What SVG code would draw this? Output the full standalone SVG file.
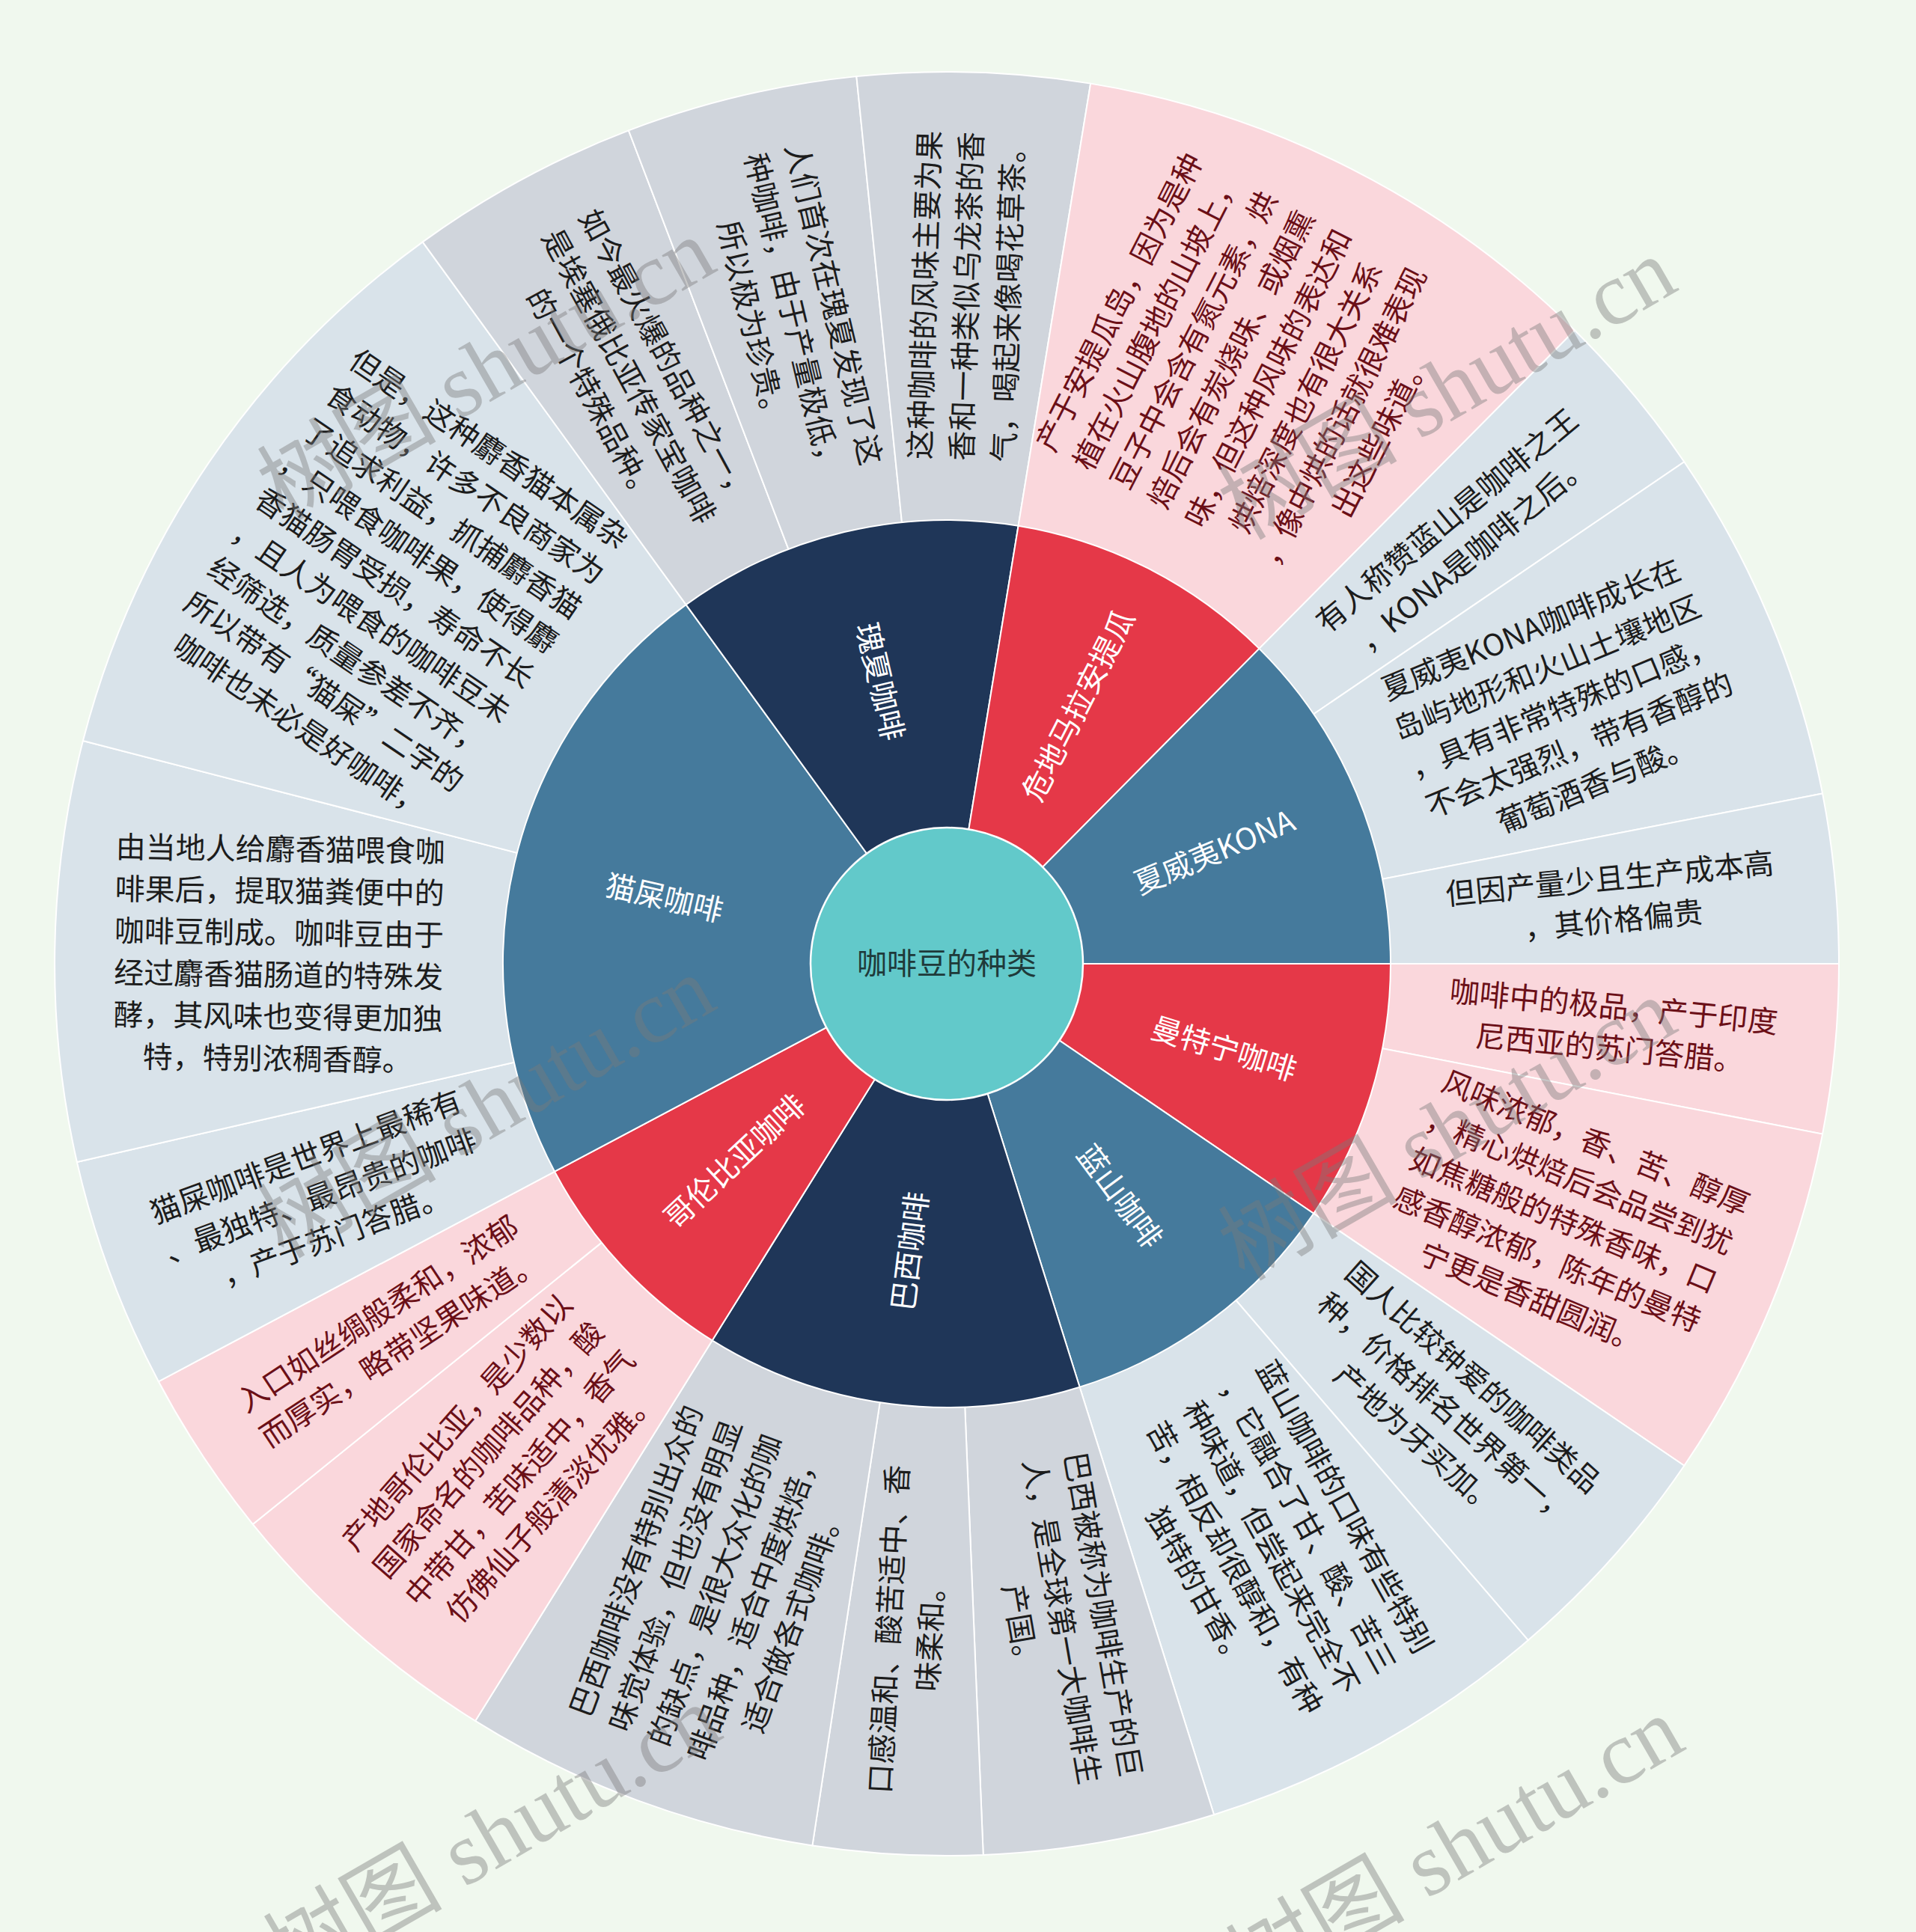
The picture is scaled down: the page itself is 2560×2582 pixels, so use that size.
<svg xmlns="http://www.w3.org/2000/svg" width="2560" height="2582" viewBox="0 0 2560 2582">
<style>
.seg{stroke:#ffffff;stroke-width:2}
.pk{fill:#fad7dc}.bg{fill:#d9e3ea}.gy{fill:#d0d5dc}
.rd{fill:#e53848}.st{fill:#457a9c}.nv{fill:#1f3658}
.t{font-family:"Noto Sans CJK SC","Noto Sans",sans-serif;font-size:40px;text-anchor:middle}
.dk{fill:#1c1c1c}.mr{fill:#6b0f17}.wt{fill:#ffffff}
.wm{font-family:"Liberation Serif","Noto Sans CJK SC",serif;font-size:120px;fill:#7a7a7a;fill-opacity:0.42;text-anchor:middle}
</style>
<rect x="0" y="0" width="2560" height="2582" fill="#f0f8ee"/>

<g id="leaves">
<g id="leaf-mandheling-1">
<path class="seg pk" d="M1265,1288 L2457,1288 A1192,1192 0 0 1 2435.07,1515.61 Z"/>
<text class="t mr" transform="translate(2153.4,1373.6) rotate(5.504)"><tspan x="0" y="-14">咖啡中的极品，产于印度</tspan><tspan x="0" y="42">尼西亚的苏门答腊。</tspan></text>
</g>
<g id="leaf-mandheling-2">
<path class="seg pk" d="M1265,1288 L2435.07,1515.61 A1192,1192 0 0 1 2250.30,1958.79 Z"/>
<text class="t mr" transform="translate(2088.8,1631.4) rotate(22.628)"><tspan x="0" y="-98">风味浓郁，香、苦、醇厚</tspan><tspan x="0" y="-42">，精心烘焙后会品尝到犹</tspan><tspan x="0" y="14">如焦糖般的特殊香味，口</tspan><tspan x="0" y="70">感香醇浓郁，陈年的曼特</tspan><tspan x="0" y="126">宁更是香甜圆润。</tspan></text>
</g>
<g id="leaf-bluemountain-1">
<path class="seg bg" d="M1265,1288 L2250.30,1958.79 A1192,1192 0 0 1 2041.77,2192.10 Z"/>
<text class="t dk" transform="translate(1930.5,1882.6) rotate(41.79)"><tspan x="0" y="-42">国人比较钟爱的咖啡类品</tspan><tspan x="0" y="14">种，价格排名世界第一，</tspan><tspan x="0" y="70">产地为牙买加。</tspan></text>
</g>
<g id="leaf-bluemountain-2">
<path class="seg bg" d="M1265,1288 L2041.77,2192.10 A1192,1192 0 0 1 1622.02,2425.23 Z"/>
<text class="t dk" transform="translate(1698.4,2068.2) rotate(60.95)"><tspan x="0" y="-98">蓝山咖啡的口味有些特别</tspan><tspan x="0" y="-42">，它融合了甘、酸、苦三</tspan><tspan x="0" y="14">种味道，但尝起来完全不</tspan><tspan x="0" y="70">苦，相反却很醇和，有种</tspan><tspan x="0" y="126">独特的甘香。</tspan></text>
</g>
<g id="leaf-brazil-1">
<path class="seg gy" d="M1265,1288 L1622.02,2425.23 A1192,1192 0 0 1 1313.75,2479.00 Z"/>
<text class="t dk" transform="translate(1418.3,2167.2) rotate(80.11)"><tspan x="0" y="-42">巴西被称为咖啡生产的巨</tspan><tspan x="0" y="14">人，是全球第一大咖啡生</tspan><tspan x="0" y="70">产国。</tspan></text>
</g>
<g id="leaf-brazil-2">
<path class="seg gy" d="M1265,1288 L1313.75,2479.00 A1192,1192 0 0 1 1085.44,2466.40 Z"/>
<text class="t dk" transform="translate(1215.8,2179.1) rotate(-86.84)"><tspan x="0" y="-14">口感温和、酸苦适中、香</tspan><tspan x="0" y="42">味柔和。</tspan></text>
</g>
<g id="leaf-brazil-3">
<path class="seg gy" d="M1265,1288 L1085.44,2466.40 A1192,1192 0 0 1 635.06,2299.93 Z"/>
<text class="t dk" transform="translate(955.6,2125.2) rotate(-69.72)"><tspan x="0" y="-98">巴西咖啡没有特别出众的</tspan><tspan x="0" y="-42">味觉体验，但也没有明显</tspan><tspan x="0" y="14">的缺点，是很大众化的咖</tspan><tspan x="0" y="70">啡品种，适合中度烘焙，</tspan><tspan x="0" y="126">适合做各式咖啡。</tspan></text>
</g>
<g id="leaf-colombia-1">
<path class="seg pk" d="M1265,1288 L635.06,2299.93 A1192,1192 0 0 1 337.80,2037.09 Z"/>
<text class="t mr" transform="translate(673.7,1956.5) rotate(-48.516)"><tspan x="0" y="-70">产地哥伦比亚，是少数以</tspan><tspan x="0" y="-14">国家命名的咖啡品种，酸</tspan><tspan x="0" y="42">中带甘，苦味适中，香气</tspan><tspan x="0" y="98">仿佛仙子般清淡优雅。</tspan></text>
</g>
<g id="leaf-colombia-2">
<path class="seg pk" d="M1265,1288 L337.80,2037.09 A1192,1192 0 0 1 211.83,1846.26 Z"/>
<text class="t mr" transform="translate(520.2,1779.7) rotate(-33.431)"><tspan x="0" y="-14">入口如丝绸般柔和，浓郁</tspan><tspan x="0" y="42">而厚实，略带坚果味道。</tspan></text>
</g>
<g id="leaf-kopi-1">
<path class="seg bg" d="M1265,1288 L211.83,1846.26 A1192,1192 0 0 1 102.84,1552.93 Z"/>
<text class="t dk" transform="translate(428.4,1598.9) rotate(-20.3845)"><tspan x="0" y="-42">猫屎咖啡是世界上最稀有</tspan><tspan x="0" y="14">、最独特、最昂贵的咖啡</tspan><tspan x="0" y="70">，产于苏门答腊。</tspan></text>
</g>
<g id="leaf-kopi-2">
<path class="seg bg" d="M1265,1288 L102.84,1552.93 A1192,1192 0 0 1 110.88,990.08 Z"/>
<text class="t dk" transform="translate(372.6,1275.3) rotate(0.816)"><tspan x="0" y="-126">由当地人给麝香猫喂食咖</tspan><tspan x="0" y="-70">啡果后，提取猫粪便中的</tspan><tspan x="0" y="-14">咖啡豆制成。咖啡豆由于</tspan><tspan x="0" y="42">经过麝香猫肠道的特殊发</tspan><tspan x="0" y="98">酵，其风味也变得更加独</tspan><tspan x="0" y="154">特，特别浓稠香醇。</tspan></text>
</g>
<g id="leaf-kopi-3">
<path class="seg bg" d="M1265,1288 L110.88,990.08 A1192,1192 0 0 1 564.72,323.40 Z"/>
<text class="t dk" transform="translate(527.2,785.9) rotate(34.2475)"><tspan x="0" y="-210">但是，这种麝香猫本属杂</tspan><tspan x="0" y="-154">食动物，许多不良商家为</tspan><tspan x="0" y="-98">了追求利益，抓捕麝香猫</tspan><tspan x="0" y="-42">，只喂食咖啡果，使得麝</tspan><tspan x="0" y="14">香猫肠胃受损，寿命不长</tspan><tspan x="0" y="70">，且人为喂食的咖啡豆未</tspan><tspan x="0" y="126">经筛选，质量参差不齐，</tspan><tspan x="0" y="182">所以带有“猫屎”二字的</tspan><tspan x="0" y="238">咖啡也未必是好咖啡，</tspan></text>
</g>
<g id="leaf-geisha-1">
<path class="seg gy" d="M1265,1288 L564.72,323.40 A1192,1192 0 0 1 839.89,174.40 Z"/>
<text class="t dk" transform="translate(840.0,503.2) rotate(61.5635)"><tspan x="0" y="-42">如今最火爆的品种之一，</tspan><tspan x="0" y="14">是埃塞俄比亚传家宝咖啡</tspan><tspan x="0" y="70">的一个特殊品种。</tspan></text>
</g>
<g id="leaf-geisha-2">
<path class="seg gy" d="M1265,1288 L839.89,174.40 A1192,1192 0 0 1 1144.36,102.12 Z"/>
<text class="t dk" transform="translate(1058.9,419.6) rotate(76.6485)"><tspan x="0" y="-42">人们首次在瑰夏发现了这</tspan><tspan x="0" y="14">种咖啡，由于产量极低，</tspan><tspan x="0" y="70">所以极为珍贵。</tspan></text>
</g>
<g id="leaf-geisha-3">
<path class="seg gy" d="M1265,1288 L1144.36,102.12 A1192,1192 0 0 1 1457.13,111.62 Z"/>
<text class="t dk" transform="translate(1292.0,395.9) rotate(-88.2665)"><tspan x="0" y="-42">这种咖啡的风味主要为果</tspan><tspan x="0" y="14">香和一种类似乌龙茶的香</tspan><tspan x="0" y="70">气，喝起来像喝花草茶。</tspan></text>
</g>
<g id="leaf-antigua-1">
<path class="seg pk" d="M1265,1288 L1457.13,111.62 A1192,1192 0 0 1 2104.10,441.42 Z"/>
<text class="t mr" transform="translate(1670.3,492.8) rotate(-62.989)"><tspan x="0" y="-182">产于安提瓜岛，因为是种</tspan><tspan x="0" y="-126">植在火山腹地的山坡上，</tspan><tspan x="0" y="-70">豆子中会含有氮元素，烘</tspan><tspan x="0" y="-14">焙后会有炭烧味、或烟熏</tspan><tspan x="0" y="42">味，但这种风味的表达和</tspan><tspan x="0" y="98">烘焙深度也有很大关系</tspan><tspan x="0" y="154">，像中烘的话就很难表现</tspan><tspan x="0" y="210">出这些味道。</tspan></text>
</g>
<g id="leaf-kona-1">
<path class="seg bg" d="M1265,1288 L2104.10,441.42 A1192,1192 0 0 1 2250.31,617.22 Z"/>
<text class="t dk" transform="translate(1951.4,717.5) rotate(-39.75)"><tspan x="0" y="-14">有人称赞蓝山是咖啡之王</tspan><tspan x="0" y="42">，KONA是咖啡之后。</tspan></text>
</g>
<g id="leaf-kona-2">
<path class="seg bg" d="M1265,1288 L2250.31,617.22 A1192,1192 0 0 1 2435.07,1060.41 Z"/>
<text class="t dk" transform="translate(2088.8,944.6) rotate(-22.6265)"><tspan x="0" y="-98">夏威夷KONA咖啡成长在</tspan><tspan x="0" y="-42">岛屿地形和火山土壤地区</tspan><tspan x="0" y="14">，具有非常特殊的口感，</tspan><tspan x="0" y="70">不会太强烈，带有香醇的</tspan><tspan x="0" y="126">葡萄酒香与酸。</tspan></text>
</g>
<g id="leaf-kona-3">
<path class="seg bg" d="M1265,1288 L2435.07,1060.41 A1192,1192 0 0 1 2457,1288 Z"/>
<text class="t dk" transform="translate(2153.4,1202.4) rotate(-5.5035)"><tspan x="0" y="-14">但因产量少且生产成本高</tspan><tspan x="0" y="42">，其价格偏贵</tspan></text>
</g>
</g>

<g id="categories">
<g id="node-mandheling">
<path class="seg rd" d="M1265,1288 L1858,1288 A593,593 0 0 1 1755.17,1621.71 Z"/>
<text class="t wt" transform="translate(1635.3,1402.1) rotate(17.12)" y="14">曼特宁咖啡</text>
</g>
<g id="node-bluemountain">
<path class="seg st" d="M1265,1288 L1755.17,1621.71 A593,593 0 0 1 1442.61,1853.75 Z"/>
<text class="t wt" transform="translate(1496.0,1599.1) rotate(53.41)" y="14">蓝山咖啡</text>
</g>
<g id="node-brazil">
<path class="seg nv" d="M1265,1288 L1442.61,1853.75 A593,593 0 0 1 951.61,1791.42 Z"/>
<text class="t wt" transform="translate(1216.2,1672.4) rotate(-82.76)" y="14">巴西咖啡</text>
</g>
<g id="node-colombia">
<path class="seg rd" d="M1265,1288 L951.61,1791.42 A593,593 0 0 1 741.06,1565.73 Z"/>
<text class="t wt" transform="translate(981.7,1552.3) rotate(-43.01)" y="14">哥伦比亚咖啡</text>
</g>
<g id="node-kopi">
<path class="seg st" d="M1265,1288 L741.06,1565.73 A593,593 0 0 1 916.62,808.13 Z"/>
<text class="t wt" transform="translate(887.5,1200.5) rotate(13.05)" y="14">猫屎咖啡</text>
</g>
<g id="node-geisha">
<path class="seg nv" d="M1265,1288 L916.62,808.13 A593,593 0 0 1 1360.58,702.77 Z"/>
<text class="t wt" transform="translate(1175.5,911.0) rotate(76.65)" y="14">瑰夏咖啡</text>
</g>
<g id="node-antigua">
<path class="seg rd" d="M1265,1288 L1360.58,702.77 A593,593 0 0 1 1682.44,866.84 Z"/>
<text class="t wt" transform="translate(1441.0,942.8) rotate(-62.99)" y="14">危地马拉安提瓜</text>
</g>
<g id="node-kona">
<path class="seg st" d="M1265,1288 L1682.44,866.84 A593,593 0 0 1 1858,1288 Z"/>
<text class="t wt" transform="translate(1622.7,1138.9) rotate(-22.63)" y="14">夏威夷KONA</text>
</g>
</g>

<g id="node-root">
<circle cx="1265" cy="1288" r="182" fill="#62c9ca" stroke="#ffffff" stroke-width="2.5"/>
<text class="t" x="1265" y="1302" fill="#1f3a3a">咖啡豆的种类</text>
</g>

<g id="connectors"></g>

<g id="watermark">
<text class="wm" transform="translate(650,494) rotate(-30)" y="40">树图 shutu.cn</text>
<text class="wm" transform="translate(1934,520) rotate(-30)" y="40">树图 shutu.cn</text>
<text class="wm" transform="translate(650,1480) rotate(-30)" y="40">树图 shutu.cn</text>
<text class="wm" transform="translate(1934,1510) rotate(-30)" y="40">树图 shutu.cn</text>
<text class="wm" transform="translate(658,2455) rotate(-30)" y="40">树图 shutu.cn</text>
<text class="wm" transform="translate(1944,2470) rotate(-30)" y="40">树图 shutu.cn</text>
</g>
</svg>
